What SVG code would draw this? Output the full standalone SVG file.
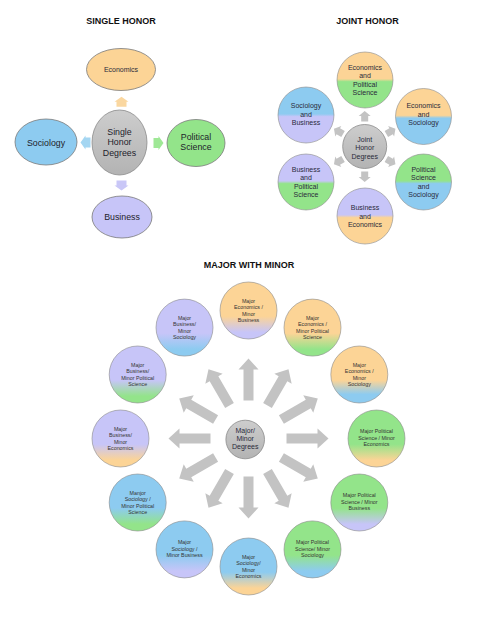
<svg xmlns="http://www.w3.org/2000/svg" xmlns:xlink="http://www.w3.org/1999/xlink" width="498" height="622" viewBox="0 0 498 622">
<style>
.title{font-family:"Liberation Sans",Arial,sans-serif;font-weight:bold;font-size:9px;fill:#111;text-anchor:middle}
.sh{font-family:"Liberation Sans",Arial,sans-serif;font-size:8.8px;fill:#1d1d2b;text-anchor:middle}
.jh{font-family:"Liberation Sans",Arial,sans-serif;font-size:7px;fill:#2a2a3a;text-anchor:middle}
.mm{font-family:"Liberation Sans",Arial,sans-serif;font-size:5.3px;fill:#333;text-anchor:middle}
.node{stroke:#7a7a7a;stroke-width:0.8}
.gnode{stroke:#8a8a8a;stroke-width:0.8}
.mnode{stroke:#8a8a8a;stroke-width:0.6}
.garrow{fill:#c3c3c3}
</style>
<defs>
<linearGradient id="gray" x1="0" y1="0" x2="0" y2="1"><stop offset="0" stop-color="#cdcdcd"/><stop offset="1" stop-color="#b3b3b3"/></linearGradient>
<!-- joint honor hard splits -->
<linearGradient id="jOG" x1="0" y1="0" x2="0" y2="1"><stop offset="0.48" stop-color="#fcd496"/><stop offset="0.53" stop-color="#93e48a"/></linearGradient>
<linearGradient id="jOB" x1="0" y1="0" x2="0" y2="1"><stop offset="0.48" stop-color="#fcd496"/><stop offset="0.53" stop-color="#8dcbf0"/></linearGradient>
<linearGradient id="jGB" x1="0" y1="0" x2="0" y2="1"><stop offset="0.48" stop-color="#93e48a"/><stop offset="0.53" stop-color="#8dcbf0"/></linearGradient>
<linearGradient id="jPO" x1="0" y1="0" x2="0" y2="1"><stop offset="0.48" stop-color="#c7c5f8"/><stop offset="0.53" stop-color="#fcd496"/></linearGradient>
<linearGradient id="jPG" x1="0" y1="0" x2="0" y2="1"><stop offset="0.48" stop-color="#c7c5f8"/><stop offset="0.53" stop-color="#93e48a"/></linearGradient>
<linearGradient id="jBP" x1="0" y1="0" x2="0" y2="1"><stop offset="0.48" stop-color="#8dcbf0"/><stop offset="0.53" stop-color="#c7c5f8"/></linearGradient>
<!-- major/minor soft blends -->
<linearGradient id="mOP" x1="0" y1="0" x2="0" y2="1"><stop offset="0.6" stop-color="#fcd496"/><stop offset="0.88" stop-color="#c7c5f8"/></linearGradient>
<linearGradient id="mOG" x1="0" y1="0" x2="0" y2="1"><stop offset="0.6" stop-color="#fcd496"/><stop offset="0.88" stop-color="#93e48a"/></linearGradient>
<linearGradient id="mOB" x1="0" y1="0" x2="0" y2="1"><stop offset="0.6" stop-color="#fcd496"/><stop offset="0.85" stop-color="#8dcbf0"/></linearGradient>
<linearGradient id="mGO" x1="0" y1="0" x2="0" y2="1"><stop offset="0.6" stop-color="#93e48a"/><stop offset="0.88" stop-color="#fcd496"/></linearGradient>
<linearGradient id="mGP" x1="0" y1="0" x2="0" y2="1"><stop offset="0.6" stop-color="#93e48a"/><stop offset="0.88" stop-color="#c7c5f8"/></linearGradient>
<linearGradient id="mGB" x1="0" y1="0" x2="0" y2="1"><stop offset="0.6" stop-color="#93e48a"/><stop offset="0.88" stop-color="#8dcbf0"/></linearGradient>
<linearGradient id="mBO" x1="0" y1="0" x2="0" y2="1"><stop offset="0.6" stop-color="#8dcbf0"/><stop offset="0.88" stop-color="#fcd496"/></linearGradient>
<linearGradient id="mBP" x1="0" y1="0" x2="0" y2="1"><stop offset="0.6" stop-color="#8dcbf0"/><stop offset="0.88" stop-color="#c7c5f8"/></linearGradient>
<linearGradient id="mBG" x1="0" y1="0" x2="0" y2="1"><stop offset="0.6" stop-color="#8dcbf0"/><stop offset="0.88" stop-color="#93e48a"/></linearGradient>
<linearGradient id="mPO" x1="0" y1="0" x2="0" y2="1"><stop offset="0.6" stop-color="#c7c5f8"/><stop offset="0.88" stop-color="#fcd496"/></linearGradient>
<linearGradient id="mPG" x1="0" y1="0" x2="0" y2="1"><stop offset="0.6" stop-color="#c7c5f8"/><stop offset="0.88" stop-color="#93e48a"/></linearGradient>
<linearGradient id="mPB" x1="0" y1="0" x2="0" y2="1"><stop offset="0.6" stop-color="#c7c5f8"/><stop offset="0.88" stop-color="#8dcbf0"/></linearGradient>
<path id="bigArrow" d="M38,-5 H69 V-10 L80,0 L69,10 V5 H38 Z"/>
<path id="smallArrow" d="M-5,-3.5 H0.5 V-6 L5.5,0 L0.5,6 V3.5 H-5 Z"/>
<path id="shArrow" d="M-5,-5 H0 V-7 L5,0 L0,7 V5 H-5 Z"/>
</defs>
<rect width="498" height="622" fill="#ffffff"/>

<!-- titles -->
<text class="title" x="121" y="24">SINGLE HONOR</text>
<text class="title" x="367.5" y="24">JOINT HONOR</text>
<text class="title" x="249" y="268">MAJOR WITH MINOR</text>

<g id="connectors">
  <!-- single honor -->
  <use xlink:href="#shArrow" transform="translate(121.5,101.7) rotate(-90)" fill="#fad7a0"/>
  <use xlink:href="#shArrow" transform="translate(85.5,142.5) rotate(180)" fill="#a4d6f2"/>
  <use xlink:href="#shArrow" transform="translate(158.5,143) rotate(0)" fill="#9fe896"/>
  <use xlink:href="#shArrow" transform="translate(121.5,185.5) rotate(90)" fill="#c9c7f7"/>
  <!-- joint honor -->
  <g class="garrow">
    <use xlink:href="#smallArrow" transform="translate(364.7,146.5) rotate(-90) translate(30,0)"/>
    <use xlink:href="#smallArrow" transform="translate(364.7,146.5) rotate(-30) translate(30,0)"/>
    <use xlink:href="#smallArrow" transform="translate(364.7,146.5) rotate(30) translate(30,0)"/>
    <use xlink:href="#smallArrow" transform="translate(364.7,146.5) rotate(90) translate(30,0)"/>
    <use xlink:href="#smallArrow" transform="translate(364.7,146.5) rotate(150) translate(30,0)"/>
    <use xlink:href="#smallArrow" transform="translate(364.7,146.5) rotate(210) translate(30,0)"/>
  </g>
  <!-- major with minor -->
  <g class="garrow">
    <use xlink:href="#bigArrow" transform="translate(248.5,438.5) rotate(-90)"/>
    <use xlink:href="#bigArrow" transform="translate(248.5,438.5) rotate(-60)"/>
    <use xlink:href="#bigArrow" transform="translate(248.5,438.5) rotate(-30)"/>
    <use xlink:href="#bigArrow" transform="translate(248.5,438.5) rotate(0)"/>
    <use xlink:href="#bigArrow" transform="translate(248.5,438.5) rotate(30)"/>
    <use xlink:href="#bigArrow" transform="translate(248.5,438.5) rotate(60)"/>
    <use xlink:href="#bigArrow" transform="translate(248.5,438.5) rotate(90)"/>
    <use xlink:href="#bigArrow" transform="translate(248.5,438.5) rotate(120)"/>
    <use xlink:href="#bigArrow" transform="translate(248.5,438.5) rotate(150)"/>
    <use xlink:href="#bigArrow" transform="translate(248.5,438.5) rotate(180)"/>
    <use xlink:href="#bigArrow" transform="translate(248.5,438.5) rotate(210)"/>
    <use xlink:href="#bigArrow" transform="translate(248.5,438.5) rotate(240)"/>
  </g>
</g>

<!-- SINGLE HONOR nodes -->
<g id="sh-center"><ellipse class="gnode" cx="119.5" cy="142.5" rx="27.5" ry="32.5" fill="url(#gray)"/>
<text class="sh"><tspan x="119.5" y="134.8">Single</tspan><tspan x="119.5" y="145.3">Honor</tspan><tspan x="119.5" y="155.8">Degrees</tspan></text></g>
<g id="sh-economics"><ellipse class="node" cx="121" cy="69.5" rx="34.5" ry="21" fill="#fcd496"/>
<text class="jh" x="121" y="71.5">Economics</text></g>
<g id="sh-sociology"><ellipse class="node" cx="46" cy="142" rx="31" ry="23" fill="#8dcbf0"/>
<text class="sh" x="46" y="145.8">Sociology</text></g>
<g id="sh-polsci"><ellipse class="node" cx="196" cy="143" rx="29" ry="23.5" fill="#93e48a"/>
<text class="sh"><tspan x="196" y="139.8">Political</tspan><tspan x="196" y="150.4">Science</tspan></text></g>
<g id="sh-business"><ellipse class="node" cx="122" cy="217" rx="30" ry="21" fill="#c7c5f8"/>
<text class="sh" x="122" y="219.8">Business</text></g>

<!-- JOINT HONOR nodes -->
<g id="jh-center"><circle class="gnode" cx="364.7" cy="146.5" r="22" fill="url(#gray)"/>
<text class="jh"><tspan x="364.7" y="141.8">Joint</tspan><tspan x="364.7" y="150.2">Honor</tspan><tspan x="364.7" y="158.5">Degrees</tspan></text></g>
<g id="jh-eco-pol"><circle class="mnode" cx="365" cy="80" r="28" fill="url(#jOG)"/>
<text class="jh"><tspan x="365" y="69.75">Economics</tspan><tspan x="365" y="78.25">and</tspan><tspan x="365" y="86.75">Political</tspan><tspan x="365" y="95.25">Science</tspan></text></g>
<g id="jh-eco-soc"><circle class="mnode" cx="423.5" cy="116.5" r="28" fill="url(#jOB)"/>
<text class="jh"><tspan x="423.5" y="108">Economics</tspan><tspan x="423.5" y="116.5">and</tspan><tspan x="423.5" y="125">Sociology</tspan></text></g>
<g id="jh-pol-soc"><circle class="mnode" cx="423.5" cy="182" r="28" fill="url(#jGB)"/>
<text class="jh"><tspan x="423.5" y="171.75">Political</tspan><tspan x="423.5" y="180.25">Science</tspan><tspan x="423.5" y="188.75">and</tspan><tspan x="423.5" y="197.25">Sociology</tspan></text></g>
<g id="jh-bus-eco"><circle class="mnode" cx="365" cy="216" r="28" fill="url(#jPO)"/>
<text class="jh"><tspan x="365" y="210">Business</tspan><tspan x="365" y="218.5">and</tspan><tspan x="365" y="227">Economics</tspan></text></g>
<g id="jh-bus-pol"><circle class="mnode" cx="306" cy="182" r="28" fill="url(#jPG)"/>
<text class="jh"><tspan x="306" y="171.75">Business</tspan><tspan x="306" y="180.25">and</tspan><tspan x="306" y="188.75">Political</tspan><tspan x="306" y="197.25">Science</tspan></text></g>
<g id="jh-soc-bus"><circle class="mnode" cx="306" cy="115" r="28" fill="url(#jBP)"/>
<text class="jh"><tspan x="306" y="108">Sociology</tspan><tspan x="306" y="116.5">and</tspan><tspan x="306" y="125">Business</tspan></text></g>

<!-- MAJOR WITH MINOR nodes -->
<g id="mm-center"><circle class="gnode" cx="245.2" cy="439.5" r="19.3" fill="url(#gray)"/>
<text class="jh"><tspan x="245.2" y="432.5">Major/</tspan><tspan x="245.2" y="440.8">Minor</tspan><tspan x="245.2" y="449.3">Degrees</tspan></text></g>

<g id="mm-eco-bus"><circle class="mnode" cx="248.5" cy="310.5" r="28.5" fill="url(#mOP)"/>
<text class="mm"><tspan x="248.5" y="302.6">Major</tspan><tspan x="248.5" y="309.1">Economics /</tspan><tspan x="248.5" y="315.6">Minor</tspan><tspan x="248.5" y="322.1">Business</tspan></text></g>
<g id="mm-eco-pol"><circle class="mnode" cx="312.5" cy="327.6" r="28.5" fill="url(#mOG)"/>
<text class="mm"><tspan x="312.5" y="319.8">Major</tspan><tspan x="312.5" y="326.3">Economics /</tspan><tspan x="312.5" y="332.8">Minor Political</tspan><tspan x="312.5" y="339.3">Science</tspan></text></g>
<g id="mm-eco-soc"><circle class="mnode" cx="359.3" cy="374.5" r="28.5" fill="url(#mOB)"/>
<text class="mm"><tspan x="359.3" y="366.7">Major</tspan><tspan x="359.3" y="373.2">Economics /</tspan><tspan x="359.3" y="379.7">Minor</tspan><tspan x="359.3" y="386.2">Sociology</tspan></text></g>
<g id="mm-pol-eco"><circle class="mnode" cx="376.5" cy="438.5" r="28.5" fill="url(#mGO)"/>
<text class="mm"><tspan x="376.5" y="433.4">Major Political</tspan><tspan x="376.5" y="439.9">Science / Minor</tspan><tspan x="376.5" y="446.4">Economics</tspan></text></g>
<g id="mm-pol-bus"><circle class="mnode" cx="359.3" cy="502.5" r="28.5" fill="url(#mGP)"/>
<text class="mm"><tspan x="359.3" y="497.4">Major Political</tspan><tspan x="359.3" y="503.9">Science / Minor</tspan><tspan x="359.3" y="510.4">Business</tspan></text></g>
<g id="mm-pol-soc"><circle class="mnode" cx="312.5" cy="549.4" r="28.5" fill="url(#mGB)"/>
<text class="mm"><tspan x="312.5" y="544.3">Major Political</tspan><tspan x="312.5" y="550.8">Science/ Minor</tspan><tspan x="312.5" y="557.3">Sociology</tspan></text></g>
<g id="mm-soc-eco"><circle class="mnode" cx="248.5" cy="566.5" r="28.5" fill="url(#mBO)"/>
<text class="mm"><tspan x="248.5" y="558.7">Major</tspan><tspan x="248.5" y="565.2">Sociology/</tspan><tspan x="248.5" y="571.7">Minor</tspan><tspan x="248.5" y="578.2">Economics</tspan></text></g>
<g id="mm-soc-bus"><circle class="mnode" cx="184.5" cy="549.4" r="28.5" fill="url(#mBP)"/>
<text class="mm"><tspan x="184.5" y="544.3">Major</tspan><tspan x="184.5" y="550.8">Sociology /</tspan><tspan x="184.5" y="557.3">Minor Business</tspan></text></g>
<g id="mm-soc-pol"><circle class="mnode" cx="137.7" cy="502.5" r="28.5" fill="url(#mBG)"/>
<text class="mm"><tspan x="137.7" y="494.7">Manjor</tspan><tspan x="137.7" y="501.2">Sociology /</tspan><tspan x="137.7" y="507.7">Minor Political</tspan><tspan x="137.7" y="514.2">Science</tspan></text></g>
<g id="mm-bus-eco"><circle class="mnode" cx="120.5" cy="438.5" r="28.5" fill="url(#mPO)"/>
<text class="mm"><tspan x="120.5" y="430.7">Major</tspan><tspan x="120.5" y="437.2">Business/</tspan><tspan x="120.5" y="443.7">Minor</tspan><tspan x="120.5" y="450.2">Economics</tspan></text></g>
<g id="mm-bus-pol"><circle class="mnode" cx="137.7" cy="374.5" r="28.5" fill="url(#mPG)"/>
<text class="mm"><tspan x="137.7" y="366.7">Major</tspan><tspan x="137.7" y="373.2">Business/</tspan><tspan x="137.7" y="379.7">Minor Political</tspan><tspan x="137.7" y="386.2">Science</tspan></text></g>
<g id="mm-bus-soc"><circle class="mnode" cx="184.5" cy="327.6" r="28.5" fill="url(#mPB)"/>
<text class="mm"><tspan x="184.5" y="319.8">Major</tspan><tspan x="184.5" y="326.3">Business/</tspan><tspan x="184.5" y="332.8">Minor</tspan><tspan x="184.5" y="339.3">Sociology</tspan></text></g>
</svg>
